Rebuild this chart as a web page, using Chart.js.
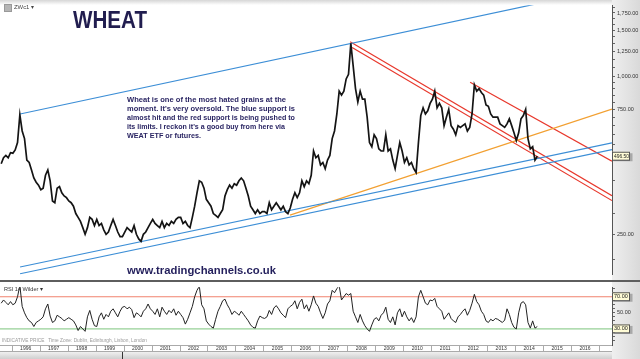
<!DOCTYPE html>
<html>
<head>
<meta charset="utf-8">
<script src="https://cdn.jsdelivr.net/npm/chart.js@4.4.1/dist/chart.umd.min.js"></script>
<style>
  body { margin: 0; background: #fff; }
  #wrap { position: relative; width: 640px; height: 359px; overflow: hidden; background: #fff; font-family: 'Liberation Sans', Arial, sans-serif; }
  #wrap > * { position: absolute; }
  #axisBg { left: 612px; top: 0; width: 28px; height: 359px; background: linear-gradient(to right, #efefef, #d9d9d9); }
  #topBar { left: 0; top: 0; width: 612px; height: 5px; background: linear-gradient(#d6d6d6, #fff); }
  #sep { left: 0; top: 280px; width: 640px; height: 2px; background: #5e5e5e; }
  #bottomBar { left: 0; top: 352px; width: 612px; height: 7px; background: linear-gradient(#f0f0f0, #cfcfcf); }
  #scrollMark { left: 122px; top: 352px; width: 1px; height: 7px; background: #333; }
  #icon { left: 4px; top: 4px; width: 6px; height: 6px; background: #b5b5b5; border: 1px solid #999; }
  .txt { white-space: nowrap; transform-origin: 0 0; line-height: 1; }
  #sym { left: 14px; top: 4px; font-size: 6px; color: #444; }
  #title { left: 73px; top: 9px; font-size: 23px; line-height: 23px; font-weight: bold; color: #211d4f; }
  .note { left: 127px; font-size: 7.2px; line-height: 9px; font-weight: bold; color: #2a2563; }
  #site { left: 127px; top: 265px; font-size: 11px; line-height: 11px; font-weight: bold; color: #231f5c; }
  #rsiLabel { left: 4px; top: 287px; font-size: 5.5px; color: #333; }
  #indicative { left: 2px; top: 338px; font-size: 5px; color: #9a9a9a; }
</style>
</head>
<body>
<div id="wrap">
  <div id="axisBg"></div>
  <div id="topBar"></div>
  <div id="bottomBar"></div>
  <div id="scrollMark"></div>
  <canvas id="price" width="640" height="280" style="left:0;top:0"></canvas>
  <div id="sep"></div>
  <canvas id="rsi" width="640" height="77" style="left:0;top:282px"></canvas>
  <div id="icon"></div>
  <div id="sym" class="txt">ZWc1 ▾</div>
  <div id="title" class="txt">WHEAT</div>
  <div id="n1" class="txt note" style="top:95px">Wheat is one of the most hated grains at the</div>
  <div id="n2" class="txt note" style="top:104px">moment. It's very oversold. The blue support is</div>
  <div id="n3" class="txt note" style="top:113px">almost hit and the red support is being pushed to</div>
  <div id="n4" class="txt note" style="top:122px">its limits. I reckon it's a good buy from here via</div>
  <div id="n5" class="txt note" style="top:131px">WEAT ETF or futures.</div>
  <div id="site" class="txt">www.tradingchannels.co.uk</div>
  <div id="rsiLabel" class="txt">RSI 14 Wilder ▾</div>
  <div id="indicative" class="txt">INDICATIVE PRICE &nbsp; Time Zone: Dublin, Edinburgh, Lisbon, London</div>
</div>

<script>
// monthly series, Aug 1995 .. Oct 2014
const firstYear = 1995;
const firstMonth = 8;

const wheatClose = [
  465, 490, 500, 490, 512,                                   // 1995
  510, 525, 560, 715, 620, 580, 480, 470, 440, 410, 395, 385, // 1996
  370, 375, 420, 440, 400, 335, 330, 375, 380, 360, 350, 345, // 1997
  335, 330, 320, 300, 290, 280, 265, 250, 265, 290, 285, 270, // 1998
  285, 270, 275, 260, 250, 255, 270, 285, 270, 255, 245, 245, // 1999
  255, 265, 260, 255, 270, 250, 240, 235, 250, 255, 265, 275, // 2000
  285, 275, 270, 265, 280, 265, 275, 270, 280, 275, 285, 290, // 2001
  290, 275, 280, 270, 265, 290, 320, 360, 400, 395, 375, 340, // 2002
  330, 320, 300, 295, 290, 300, 310, 350, 370, 385, 375, 390, // 2003
  385, 400, 410, 400, 375, 350, 320, 310, 300, 310, 300, 305, // 2004
  305, 300, 330, 310, 320, 330, 320, 310, 320, 305, 300, 315, // 2005
  340, 360, 345, 360, 400, 380, 400, 390, 420, 520, 490, 500, // 2006
  460, 470, 445, 480, 500, 580, 620, 720, 880, 850, 880, 980, // 2007
  1020, 1340, 1100, 900, 800, 880, 820, 820, 700, 560, 540, 600, // 2008
  580, 530, 520, 520, 600, 520, 530, 480, 445, 500, 560, 520, // 2009
  470, 490, 460, 470, 445, 430, 560, 710, 760, 720, 740, 790, // 2010
  820, 880, 760, 790, 760, 650, 700, 750, 650, 630, 600, 650, // 2011
  640, 650, 660, 620, 640, 720, 930, 880, 900, 870, 850, 780, // 2012
  770, 720, 700, 700, 700, 660, 650, 640, 660, 690, 650, 610, // 2013
  570, 610, 690, 710, 750, 580, 530, 540, 480, 496.5          // 2014
];

const rsi14 = [
  62, 66, 63, 60, 64,
  60, 62, 70, 84, 58, 50, 44, 40, 38, 33, 38, 40,
  42, 45, 55, 61, 46, 38, 40, 47, 45, 43, 40, 42,
  44, 42, 40, 35, 28, 33, 30, 27, 45, 53, 42, 34,
  33, 45, 50, 42, 48, 45, 52, 55, 50, 45, 52, 57,
  58, 55, 57, 54, 44, 50, 48, 45, 52, 55, 61, 55,
  52, 48, 55, 45, 57, 52, 48, 53, 50, 55, 47, 52,
  48, 44, 36, 42, 50, 58, 70, 78, 83, 60, 55, 40,
  36, 33, 31, 42, 52, 58, 65, 67, 60, 55, 48, 52,
  50, 47, 52, 48, 44, 40, 35, 32, 31, 40, 46, 44,
  43, 45, 53, 48, 56, 59, 55, 50, 47, 44, 55, 58,
  60, 65, 55, 63, 67, 55, 60, 52, 60, 71, 62, 58,
  50, 43, 50, 61, 65, 78, 75, 80, 84, 66, 70, 74,
  72, 74, 52, 45, 38, 48, 40, 34, 30, 27, 35, 42,
  44, 40, 47, 50, 57, 42, 38, 45, 35, 50, 55, 45,
  52, 45, 40, 44, 38, 45, 70, 78, 70, 62, 60, 66,
  65, 68, 58, 55, 52, 42, 46, 50, 43, 40, 38, 45,
  48, 52, 55, 47, 53, 62, 73, 64, 60, 52, 48, 40,
  38, 42, 40, 43, 42, 40, 38, 41, 55, 48, 38, 32,
  30, 50, 62, 64, 60, 38, 31, 40, 31, 33
];

// trend lines drawn on the chart: [year, price] pairs
const channelTop   = [[1996.30, 720], [2017.46, 2184]];
const channelLowA  = [[1996.30, 187.5], [2017.46, 558.5]];
const channelLowB  = [[1996.30, 176.7], [2017.46, 526.3]];
const orangeTrend  = [[2005.95, 296], [2017.46, 751]];
const redSupportA  = [[2008.10, 1358], [2017.46, 350.7]];
const redSupportB  = [[2008.17, 1291], [2017.46, 336.2]];
const redResist    = [[2012.39, 952], [2017.46, 475.6]];

const priceTicks  = [200, 250, 300, 400, 500, 550, 600, 650, 700, 750, 800, 850, 900, 950, 1000, 1083, 1167, 1250, 1333, 1417, 1500, 1583, 1667, 1750, 1833];
const priceLabels = [250, 750, 1000, 1250, 1500, 1750];
const rsiTicks    = [15, 20, 25, 30, 35, 40, 45, 50, 55, 60, 65, 70, 75, 80];
const rsiLevels   = [70, 30];
const years       = [1996, 1997, 1998, 1999, 2000, 2001, 2002, 2003, 2004, 2005, 2006, 2007, 2008, 2009, 2010, 2011, 2012, 2013, 2014, 2015, 2016];

const xMin = 1995.582, xMax = 2017.462;
const lastPrice = wheatClose[wheatClose.length - 1];

function monthly(values) {
  return values.map((v, i) => ({ x: firstYear + (firstMonth - 1 + i + 0.5) / 12, y: v }));
}
function seg(pair, color) {
  return { data: pair.map(p => ({ x: p[0], y: p[1] })), borderColor: color, borderWidth: 1.2, pointRadius: 0 };
}
const fmt = v => v.toLocaleString('en-US', { minimumFractionDigits: 2, maximumFractionDigits: 2 });

function valueBox(ctx, x, y, text) {
  ctx.save();
  ctx.fillStyle = 'rgba(0,0,0,0.25)';
  ctx.fillRect(x + 1.5, y - 3, 19, 8);
  ctx.fillStyle = '#fffcd6';
  ctx.strokeStyle = '#555';
  ctx.lineWidth = 1;
  ctx.fillRect(x, y - 4.5, 18, 8);
  ctx.strokeRect(x + 0.5, y - 4, 17, 8);
  ctx.fillStyle = '#222';
  ctx.font = '5.5px "Liberation Sans"';
  ctx.textBaseline = 'middle';
  ctx.fillText(text, x + 2, y, 15);
  ctx.restore();
}

const baseOpts = {
  responsive: false,
  animation: false,
  events: [],
  plugins: { legend: { display: false }, tooltip: { enabled: false } }
};

new Chart(document.getElementById('price'), {
  type: 'line',
  data: {
    datasets: [
      { data: monthly(wheatClose), borderColor: '#141414', borderWidth: 1.7, pointRadius: 0 },
      seg(channelTop, '#3c8ed6'),
      seg(channelLowA, '#3c8ed6'),
      seg(channelLowB, '#3c8ed6'),
      seg(orangeTrend, '#f2a032'),
      seg(redSupportA, '#e8382c'),
      seg(redSupportB, '#e8382c'),
      seg(redResist, '#e8382c')
    ]
  },
  options: {
    ...baseOpts,
    layout: { padding: 0 },
    scales: {
      x: { type: 'linear', min: xMin, max: xMax, display: false },
      y: {
        type: 'logarithmic', position: 'right', min: 175.2, max: 1872.5,
        afterFit: s => { s.width = 28; },
        afterBuildTicks: s => { s.ticks = priceTicks.map(v => ({ value: v })); },
        ticks: { autoSkip: false, padding: 2, color: '#333', font: { size: 5.5, family: 'Liberation Sans' },
                 callback: v => priceLabels.includes(v) ? fmt(v) : '' },
        grid: { drawOnChartArea: false, tickLength: 3, color: '#666' },
        border: { color: '#555' }
      }
    }
  },
  plugins: [{
    id: 'lastBox',
    afterDraw(chart) {
      valueBox(chart.ctx, 612, chart.scales.y.getPixelForValue(lastPrice), fmt(lastPrice));
    }
  }]
});

new Chart(document.getElementById('rsi'), {
  type: 'line',
  data: {
    datasets: [
      { data: monthly(rsi14), borderColor: '#222', borderWidth: 1, pointRadius: 0 },
      { data: [{ x: xMin, y: 70 }, { x: xMax, y: 70 }], borderColor: '#f0826e', borderWidth: 1, pointRadius: 0 },
      { data: [{ x: xMin, y: 30 }, { x: xMax, y: 30 }], borderColor: '#7cc47c', borderWidth: 1, pointRadius: 0 }
    ]
  },
  options: {
    ...baseOpts,
    layout: { padding: { top: 2, bottom: 7, left: 0, right: 0 } },
    scales: {
      x: {
        type: 'linear', position: 'bottom', min: xMin, max: xMax,
        afterFit: s => { s.height = 7; },
        ticks: { display: false },
        grid: { display: false },
        border: { display: true, color: '#aaa' }
      },
      y: {
        type: 'linear', position: 'right', min: 10, max: 81.76,
        afterFit: s => { s.width = 28; },
        afterBuildTicks: s => { s.ticks = rsiTicks.map(v => ({ value: v })); },
        ticks: { autoSkip: false, padding: 2, color: '#333', font: { size: 5.5, family: 'Liberation Sans' },
                 callback: v => v === 50 ? fmt(v) : '' },
        grid: { drawOnChartArea: false, tickLength: 3, color: '#666' },
        border: { color: '#555' }
      }
    }
  },
  plugins: [{
    id: 'yearCells',
    afterDraw(chart) {
      const ctx = chart.ctx, xs = chart.scales.x;
      ctx.save();
      ctx.strokeStyle = '#aaa';
      ctx.lineWidth = 1;
      ctx.beginPath();
      years.concat([2017]).forEach(y => {
        const px = Math.round(xs.getPixelForValue(y)) + 0.5;
        ctx.moveTo(px, xs.top);
        ctx.lineTo(px, xs.bottom);
      });
      ctx.moveTo(0, Math.round(xs.bottom) - 0.5);
      ctx.lineTo(612, Math.round(xs.bottom) - 0.5);
      ctx.stroke();
      ctx.fillStyle = '#333';
      ctx.font = '5px "Liberation Sans"';
      ctx.textAlign = 'center';
      ctx.textBaseline = 'middle';
      const ty = (xs.top + xs.bottom) / 2;
      years.forEach(y => ctx.fillText(String(y), xs.getPixelForValue(y + 0.5), ty));
      ctx.restore();
      rsiLevels.forEach(l => valueBox(ctx, 612, chart.scales.y.getPixelForValue(l), fmt(l)));
    }
  }]
});

function fitText(id, width) {
  const el = document.getElementById(id);
  const w = el.getBoundingClientRect().width;
  el.style.transform = 'scaleX(' + (width / w) + ')';
}
fitText('title', 74);
fitText('n1', 159);
fitText('n2', 168);
fitText('n3', 168);
fitText('n4', 158);
fitText('n5', 74);
fitText('site', 149);
fitText('indicative', 145);
fitText('sym', 20);
fitText('rsiLabel', 39);
</script>
</body>
</html>
